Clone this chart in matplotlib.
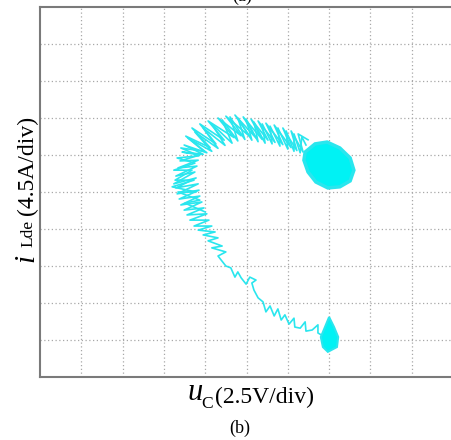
import matplotlib
matplotlib.use("Agg")
import matplotlib.pyplot as plt
import numpy as np

# ---- data (in divisions: x = uC/div, y = iLde/div) ----
path_x = [6.90, 6.73, 6.73, 6.59, 6.44, 6.42, 6.30, 6.17, 6.15, 6.03, 5.93, 5.84, 5.76, 5.67,
          5.57, 5.47, 5.40, 5.28, 5.18, 5.13, 5.23, 5.08, 4.99, 4.87, 4.79, 4.72, 4.62, 4.50,
          4.31, 4.50, 4.16, 4.41, 4.07, 4.31, 3.95, 4.24, 3.83, 4.16, 3.73, 4.09, 3.63, 4.04,
          3.56, 3.97, 3.49, 3.92, 3.41, 3.87, 3.37, 3.85, 3.32, 3.83, 3.29, 3.78,
          3.24, 3.75, 3.29, 3.80, 3.34, 3.83, 3.39, 3.87, 3.44, 3.95, 3.49, 4.04, 3.58, 4.16,
          3.75, 4.31, 3.95, 4.48, 4.16, 4.65, 4.41, 4.79, 4.60, 4.96, 4.79, 5.13, 4.99, 5.28,
          5.18, 5.45, 5.38, 5.62, 5.57, 5.81, 5.76, 6.00, 5.96, 6.15, 6.15, 6.30, 6.34, 6.44]
path_y = [1.08, 1.19, 1.41, 1.27, 1.24, 1.49, 1.32, 1.35, 1.59, 1.43, 1.68, 1.54, 1.84, 1.65,
          1.92, 1.76, 2.03, 2.14, 2.35, 2.54, 2.62, 2.70, 2.51, 2.68, 2.84, 2.70, 2.95, 3.00,
          3.27, 3.38, 3.49, 3.54, 3.68, 3.76, 3.84, 3.92, 3.97, 4.08, 4.08, 4.24, 4.24, 4.41,
          4.38, 4.57, 4.51, 4.73, 4.65, 4.89, 4.81, 5.05, 4.95, 5.22, 5.11, 5.38,
          5.22, 5.54, 5.43, 5.70, 5.65, 5.86, 5.84, 6.00, 6.08, 6.02, 6.27, 6.06, 6.46, 6.10,
          6.62, 6.18, 6.73, 6.26, 6.84, 6.32, 6.95, 6.38, 7.03, 6.42, 7.00, 6.40, 6.97, 6.36,
          6.89, 6.32, 6.84, 6.30, 6.78, 6.24, 6.73, 6.16, 6.65, 6.10, 6.57, 6.06, 6.49, 6.27]

# second pass over the upper arc (overlapping oscillation)
pass2_x = [4.00, 3.51, 3.87, 3.34, 3.78, 3.20, 3.73, 3.27, 3.68, 3.24, 3.75, 3.32, 3.85, 3.41,
           3.97, 3.53, 4.12, 3.68, 4.26, 3.87, 4.46, 4.07, 4.70, 4.31, 4.87, 4.50, 5.08, 4.72,
           5.23, 4.92, 5.38, 5.11, 5.52, 5.28, 5.69, 5.47, 5.88, 5.67, 6.08, 5.88, 6.22, 6.08,
           6.37, 6.25, 6.49]
pass2_y = [4.46, 4.70, 4.78, 5.00, 5.00, 5.14, 5.32, 5.32, 5.59, 5.59, 5.78, 5.92, 5.98, 6.19,
           6.10, 6.51, 6.20, 6.73, 6.30, 6.84, 6.40, 6.92, 6.47, 7.00, 6.52, 7.05, 6.50, 7.08,
           6.46, 7.03, 6.42, 6.97, 6.40, 6.92, 6.34, 6.86, 6.28, 6.81, 6.20, 6.73, 6.12, 6.65,
           6.08, 6.57, 6.41]

# steady-state clusters (outline of the dense regions)
upper_x = [6.42, 6.66, 6.95, 7.26, 7.51, 7.60, 7.51, 7.26, 6.97, 6.68, 6.49, 6.39]
upper_y = [6.08, 6.30, 6.35, 6.19, 5.92, 5.59, 5.30, 5.14, 5.11, 5.27, 5.54, 5.86]
lower_x = [7.00, 6.90, 6.80, 6.85, 6.97, 7.19, 7.22, 7.12]
lower_y = [1.62, 1.35, 1.08, 0.81, 0.68, 0.81, 1.08, 1.35]

W, H = 451, 440
fig = plt.figure(figsize=(W / 100, H / 100), dpi=100)
ax = fig.add_axes([40 / W, (H - 377) / H, 413 / W, 370 / H])
ax.set_xlim(0, 10)
ax.set_ylim(0, 10)
ax.set_xticks(np.arange(1, 10))
ax.set_yticks(np.arange(1, 10))
ax.tick_params(length=0, labelbottom=False, labelleft=False)
ax.grid(True, color="#a8a8a8", linestyle=(0, (1, 2)), linewidth=0.9)
for s in ax.spines.values():
    s.set_color("#7a7a7a")
    s.set_linewidth(1.5)

cyan_line = "#2ae6ee"
cyan_fill = "#00f2f4"
ax.plot(path_x, path_y, color=cyan_line, linewidth=1.2, zorder=3)
ax.plot(pass2_x, pass2_y, color=cyan_line, linewidth=1.2, zorder=3)
ax.fill(upper_x, upper_y, color=cyan_fill, zorder=4, linewidth=2.5, edgecolor=cyan_line)
ax.fill(lower_x, lower_y, color=cyan_fill, zorder=4, linewidth=1.5, edgecolor=cyan_line)

serif = "Liberation Serif"

def fx(px):
    return px / W

def fy(py):
    return 1 - py / H

# x label
fig.text(fx(187), fy(400), "u", fontsize=22, fontstyle="italic", family=serif,
         ha="left", va="baseline")
fig.text(fx(201), fy(408), "C", fontsize=12.5, family=serif, ha="left", va="baseline")
fig.text(fx(215), fy(403), "(2.5V/div)", fontsize=17, family=serif, ha="left", va="baseline")
fig.text(fx(240), fy(433), "(b)", fontsize=13, family=serif, ha="center", va="baseline")
fig.text(fx(242), fy(0.5), "(a)", fontsize=13, family=serif, ha="center", va="baseline")

# y label (rotated)
fig.text(fx(33), fy(262), "i", fontsize=21, fontstyle="italic", family=serif,
         rotation=90, ha="left", va="baseline", rotation_mode="anchor")
fig.text(fx(32), fy(247), "Lde", fontsize=12.5, family=serif,
         rotation=90, ha="left", va="baseline", rotation_mode="anchor")
fig.text(fx(33), fy(215), "(4.5A/div)", fontsize=17, family=serif,
         rotation=90, ha="left", va="baseline", rotation_mode="anchor")

fig.savefig("out.png", dpi=100)
